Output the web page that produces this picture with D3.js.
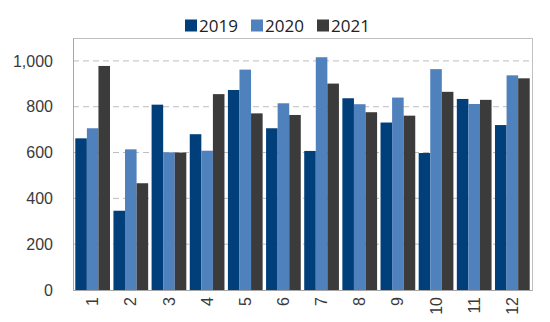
<!DOCTYPE html>
<html><head><meta charset="utf-8">
<script src="https://cdn.jsdelivr.net/npm/d3@7"></script>
<style>body{margin:0;background:#fff}svg{display:block}</style>
</head><body>
<svg id="c" width="550" height="322"></svg>
<script>
const categories = ["1","2","3","4","5","6","7","8","9","10","11","12"];
const seriesNames = ["2019","2020","2021"];
const v2019 = [662,346,809,680,873,706,607,837,731,598,834,720];
const v2020 = [706,614,601,608,962,815,1016,811,840,964,812,937];
const v2021 = [978,466,600,855,771,764,901,776,761,865,830,924];
const yTicks = [0,200,400,600,800,1000];
const colors = ["#003f7a","#4f81bd","#3c3b3b"];

const series = [v2019, v2020, v2021];
const svg = d3.select("#c");
const m = {l:73, r:18, t:38, b:32};
const W = 550, H = 322;
const x = d3.scaleBand().domain(categories).range([m.l, W-m.r]).paddingInner(0.09).paddingOuter(0.06);
const xs = d3.scaleBand().domain(seriesNames).range([0, x.bandwidth()]).padding(0);
const y = d3.scaleLinear().domain([0,1100]).range([H-m.b, m.t]);
const FONT = "'Liberation Sans', Arial, sans-serif";

// grid
svg.append("g").selectAll("line").data(yTicks.filter(d=>d>0)).join("line")
  .attr("x1", m.l).attr("x2", W-m.r).attr("y1", d=>y(d)).attr("y2", d=>y(d))
  .attr("stroke","#bdbdbd").attr("stroke-dasharray","6,4");
// border
svg.append("rect").attr("x", m.l+0.5).attr("y", m.t+0.5).attr("width", W-m.r-m.l).attr("height", H-m.b-m.t)
  .attr("fill","none").attr("stroke","#c0c0c0");

// bars
const g = svg.append("g");
categories.forEach((c,i)=>{
  series.forEach((s,j)=>{
    g.append("rect").attr("x", x(c)+xs(seriesNames[j])).attr("width", xs.bandwidth())
      .attr("y", y(s[i])).attr("height", y(0)-y(s[i])).attr("fill", colors[j]);
  });
});

// axes
const yAxis = d3.axisLeft(y).tickValues(yTicks).tickFormat(d3.format(",")).tickSize(0).tickPadding(20);
const ya = svg.append("g").attr("transform",`translate(${m.l},0)`).call(yAxis);
ya.select(".domain").attr("stroke","#a6a6a6");
ya.selectAll("text").attr("font-family",FONT).attr("font-size",16).attr("fill","#3a3a3a");

const xAxis = d3.axisBottom(x).tickSize(0);
const xa = svg.append("g").attr("transform",`translate(0,${H-m.b})`).call(xAxis);
xa.select(".domain").attr("stroke","#a6a6a6");
xa.selectAll("text").attr("font-family",FONT).attr("font-size",16).attr("fill","#3a3a3a")
  .attr("transform","rotate(-90)").attr("text-anchor","end").attr("dy","0.35em").attr("x",-7).attr("y",0);

// legend
const lg = svg.append("g").attr("font-family","Open Sans, sans-serif").attr("font-size",17).attr("fill","#222");
const lx = [185, 251, 317];
seriesNames.forEach((n,j)=>{
  lg.append("rect").attr("x", lx[j]).attr("y", 19.5).attr("width", 12).attr("height", 12).attr("fill", colors[j]);
  lg.append("text").attr("x", lx[j]+14).attr("y", 31.5).text(n);
});
</script>
</body></html>
